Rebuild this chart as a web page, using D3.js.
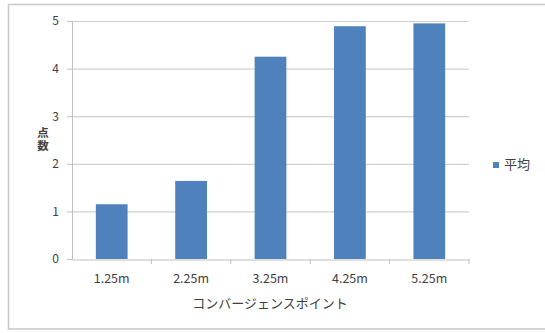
<!DOCTYPE html>
<html><head><meta charset="utf-8">
<script src="https://cdn.jsdelivr.net/npm/d3@7"></script>
<style>body{margin:0;background:#fff;}svg{display:block;}</style>
</head><body>
<svg id="c" width="545" height="333"></svg>
<script>
const categories = ["1.25m","2.25m","3.25m","4.25m","5.25m"];
const values = [1.15, 1.64, 4.25, 4.89, 4.95];
const yTicks = [0,1,2,3,4,5];
const seriesName = "平均";
const xTitle = "コンバージェンスポイント";
const yTitle = "点数";

const svg = d3.select("#c");
const font = "'Noto Sans CJK JP', 'Noto Sans', sans-serif";
const textColor = "#404040";
const pLeft = 72, pRight = 469, pTop = 21, pBottom = 259;

svg.append("rect").attr("x",8.5).attr("y",4.5).attr("width",545).attr("height",324.5)
  .attr("fill","#fff").attr("stroke","#c8c8c8").attr("stroke-width",1.5);

const x = d3.scaleBand().domain(categories).range([pLeft,pRight]).paddingInner(0.6).paddingOuter(0.3);
const y = d3.scaleLinear().domain([0,5]).range([pBottom,pTop]);

// gridlines
svg.append("g").selectAll("line").data(yTicks.filter(d=>d>0)).join("line")
  .attr("x1",pLeft).attr("x2",pRight).attr("y1",d=>y(d)+0.5).attr("y2",d=>y(d)+0.5)
  .attr("stroke","#cfcfcf").attr("stroke-width",1.2);
const yAxis = d3.axisLeft(y).tickValues(yTicks).tickSize(5).tickPadding(8).tickFormat(d3.format("d"));
const gy = svg.append("g").attr("transform",`translate(${pLeft},0)`).call(yAxis);
gy.select(".domain").attr("stroke","#c0c0c0");
gy.selectAll(".tick line").attr("stroke","#c0c0c0");
gy.selectAll(".tick text").attr("fill",textColor).style("font-family",font).style("font-size","12px");

// bars
svg.append("g").selectAll("rect").data(values).join("rect")
  .attr("x",(d,i)=>x(categories[i])).attr("width",x.bandwidth())
  .attr("y",d=>y(d)).attr("height",d=>pBottom-y(d)).attr("fill","#4f81bd");

// x axis
const xb = d3.scaleBand().domain(categories).range([pLeft,pRight]);
const gx = svg.append("g").attr("transform",`translate(0,${pBottom+0.5})`)
  .call(d3.axisBottom(xb).tickSize(0).tickPadding(15));
gx.select(".domain").attr("stroke","#c0c0c0");
gx.selectAll(".tick text").attr("fill",textColor).style("font-family",font).style("font-size","12.5px");
const sepX = categories.slice(1).map(c=>xb(c)).concat([pRight]);
svg.append("g").selectAll("line").data(sepX).join("line")
  .attr("x1",d=>d).attr("x2",d=>d)
  .attr("y1",pBottom).attr("y2",pBottom+5).attr("stroke","#c0c0c0");

svg.append("text").attr("x",270).attr("y",308).attr("text-anchor","middle")
  .attr("fill",textColor).style("font-family",font).style("font-size","13px").text(xTitle);

svg.append("text").attr("x",43).attr("y",127)
  .style("writing-mode","vertical-rl").style("letter-spacing","1.5px")
  .attr("fill",textColor).style("font-family",font).style("font-size","11.5px").style("font-weight","bold").text(yTitle);

// legend
svg.append("rect").attr("x",493).attr("y",162).attr("width",6).attr("height",6).attr("fill","#4f81bd");
svg.append("text").attr("x",504).attr("y",169).attr("fill",textColor)
  .style("font-family",font).style("font-size","13px").text(seriesName);
</script>
</body></html>
